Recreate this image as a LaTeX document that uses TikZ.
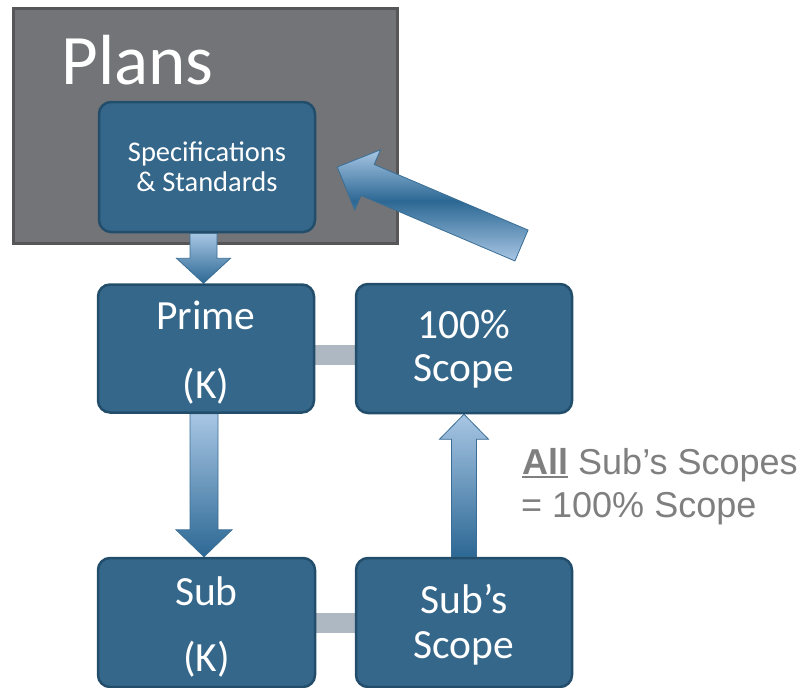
\documentclass[tikz,border=0pt]{standalone}
\usepackage{fontspec}
\setmainfont{Carlito}
\newfontfamily\arialf{Liberation Sans}
\usetikzlibrary{calc}
\definecolor{boxfill}{HTML}{35678A}
\definecolor{boxline}{HTML}{234E6B}
\definecolor{plansfill}{HTML}{737477}
\definecolor{plansline}{HTML}{565658}
\definecolor{arrL}{HTML}{A8C6E4}
\definecolor{arrD}{HTML}{2C6894}
\definecolor{arrline}{HTML}{3A6E95}
\definecolor{connc}{HTML}{ADB8C3}
\definecolor{anntext}{HTML}{7F7F7F}
\pgfdeclareverticalshading{diagsh}{100bp}{color(0bp)=(arrL); color(25bp)=(arrL); color(52bp)=(arrD); color(75bp)=(arrL); color(100bp)=(arrL)}
\pgfdeclarelayer{back}
\pgfdeclarelayer{mid}
\pgfsetlayers{back,mid,main}
\newcommand\myul[1]{\vtop{\hbox{#1}\kern1.8pt\hrule height 2.6pt}}
% name, tail, tip, shaft half, head half, head length, style
\newcommand\blockarrow[7]{%
  \coordinate (#1h) at ($(#3)!#6!(#2)$);
  \path[#7] (#3) -- ($(#1h)!#5!90:(#2)$) -- ($(#1h)!#4!90:(#2)$)
    -- ($(#2)!#4!-90:(#3)$) -- ($(#2)!#4!90:(#3)$)
    -- ($(#1h)!#4!-90:(#2)$) -- ($(#1h)!#5!-90:(#2)$) -- cycle;
}
\tikzset{
  box/.style={draw=boxline, line width=2.5pt, fill=boxfill, rounded corners=12pt,
    minimum width=216pt, minimum height=128pt, inner sep=0pt},
  boxtext/.style={text=white, align=center, inner sep=0pt},
  plansbox/.style={draw=plansline, line width=3pt, fill=plansfill, minimum width=384pt,
    minimum height=235pt, inner sep=0pt},
  arrstyle/.style={draw=arrline, line width=0.8pt, top color=arrL, bottom color=arrD},
  diagstyle/.style={draw=arrline, line width=0.8pt, shading=diagsh},
  conn/.style={draw=connc, line width=20pt},
  ann/.style={font=\arialf\fontsize{36}{41}\selectfont, text=anntext, inner sep=0pt}
}
\begin{document}
\begin{tikzpicture}[x=1pt, y=-1pt]
\useasboundingbox (0,0) rectangle (807,688);
\begin{pgfonlayer}{back}
  \node[plansbox] (plans) at (205,125.5) {};
\end{pgfonlayer}
\node[anchor=base west, text=white, font=\fontsize{71}{71}\selectfont, inner sep=0pt] (planstitle) at (61.5,84) {Plans};

\node[box, minimum height=130pt] (spec) at (207,167) {};
\node[box] (prime) at (206,348.5) {};
\node[box, minimum height=129pt] (scope) at (464,348.5) {};
\node[box, minimum width=217pt, minimum height=129pt] (sub) at (206.5,622.5) {};
\node[box, minimum height=129pt] (subscope) at (464,622.5) {};

\node[boxtext, font=\fontsize{28.5}{30}\selectfont] (spectext) at (spec.center) {Specifications\\\& Standards};
\node[boxtext, font=\fontsize{41.5}{69}\selectfont] (primetext) at ([yshift=-4pt]prime.center) {Prime\\(K)};
\node[boxtext, font=\fontsize{41.5}{43}\selectfont] (scopetext) at ([yshift=-0.5pt]scope.center) {100\%\\Scope};
\node[boxtext, font=\fontsize{41.5}{66}\selectfont] (subtext) at ([yshift=-4pt]sub.center) {Sub\\(K)};
\node[boxtext, font=\fontsize{41.5}{45}\selectfont] (subscopetext) at ([yshift=-2.5pt]subscope.center) {Sub’s\\Scope};

\coordinate (a1t) at ([xshift=-3.5pt]spec.south);
\coordinate (a1h) at (prime.north -| a1t);
\coordinate (a2t) at ([xshift=-2pt]prime.south);
\coordinate (a2h) at (sub.north -| a2t);
\coordinate (dtail) at (521.5,245.5);
\coordinate (dtip) at ([xshift=21pt]spec.east);

\begin{pgfonlayer}{mid}
  \draw[conn] ([yshift=-6.5pt]prime.east) -- ([yshift=-6.5pt]scope.west);
  \draw[conn] ([yshift=-0.5pt]sub.east) -- ([yshift=-0.5pt]subscope.west);
  \blockarrow{ar1}{a1t}{a1h}{13.5pt}{27pt}{25pt}{arrstyle}
  \blockarrow{ar2}{a2t}{a2h}{14pt}{28pt}{27pt}{arrstyle}
  \blockarrow{ar3}{subscope.north}{scope.south}{12.5pt}{24.5pt}{25pt}{arrstyle}
  \blockarrow{ar4}{dtail}{dtip}{16.8pt}{32.7pt}{33pt}{diagstyle}
\end{pgfonlayer}

\node[ann, anchor=base west] (ann1) at (522,474) {\myul{\textbf{All}} Sub’s Scopes};
\node[ann, anchor=base west] (ann2) at (521,517) {= 100\% Scope};
\end{tikzpicture}
\end{document}
